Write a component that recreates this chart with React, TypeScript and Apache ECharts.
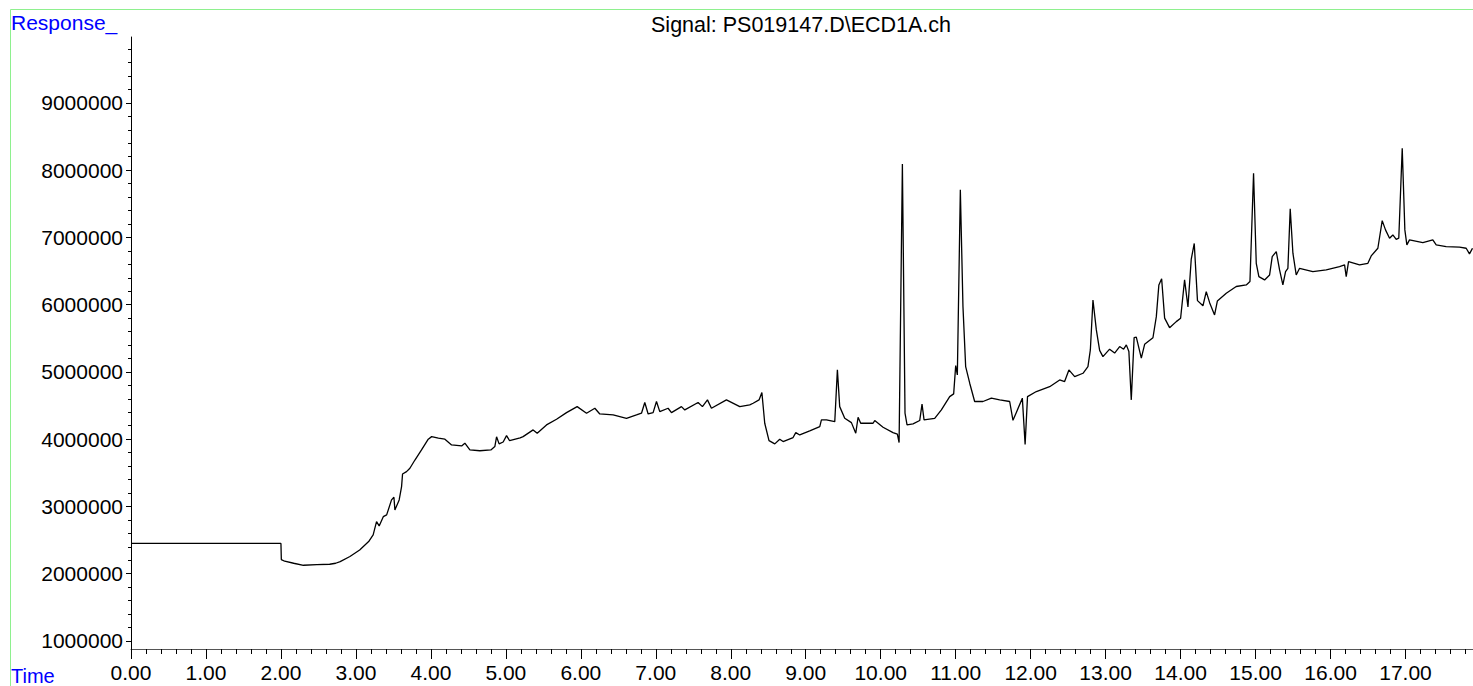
import React, { useEffect, useRef } from "react";
import * as echarts from "echarts";

const titleText = "Signal: PS019147.D\\ECD1A.ch";
const yAxisName = "Response_";
const xAxisName = "Time";

const xTickLabels = [0, 1, 2, 3, 4, 5, 6, 7, 8, 9, 10, 11, 12, 13, 14, 15, 16, 17];
const yTickLabels = [1000000, 2000000, 3000000, 4000000, 5000000, 6000000, 7000000, 8000000, 9000000];

const times = [
  0.0, 2.0, 2.005, 2.05, 2.17, 2.3, 2.48, 2.65, 2.73, 2.79, 2.92, 3.05, 3.17, 3.23, 3.275, 3.31, 3.365, 3.41,
  3.475, 3.507, 3.52, 3.577, 3.609, 3.622, 3.675, 3.72, 3.787, 3.875, 3.965, 4.01, 4.1, 4.187, 4.276, 4.41,
  4.453, 4.52, 4.653, 4.8, 4.853, 4.876, 4.91, 4.964, 5.009, 5.05, 5.19, 5.23, 5.364, 5.418, 5.542, 5.676,
  5.809, 5.951, 6.076, 6.187, 6.253, 6.431, 6.609, 6.742, 6.809, 6.853, 6.898, 6.964, 7.009, 7.053, 7.164,
  7.209, 7.342, 7.387, 7.564, 7.622, 7.689, 7.742, 7.942, 8.12, 8.253, 8.298, 8.377, 8.415, 8.453, 8.51,
  8.587, 8.653, 8.698, 8.831, 8.867, 8.92, 9.053, 9.187, 9.209, 9.276, 9.387, 9.422, 9.453, 9.52, 9.609,
  9.667, 9.698, 9.733, 9.898, 9.92, 10.031, 10.164, 10.222, 10.245, 10.289, 10.324, 10.351, 10.431, 10.52,
  10.551, 10.578, 10.72, 10.809, 10.92, 10.973, 11.0, 11.022, 11.062, 11.097, 11.133, 11.187, 11.253, 11.364,
  11.476, 11.587, 11.72, 11.764, 11.809, 11.889, 11.926, 11.958, 12.076, 12.253, 12.387, 12.453, 12.51,
  12.587, 12.698, 12.764, 12.796, 12.831, 12.876, 12.92, 12.964, 13.053, 13.12, 13.187, 13.24, 13.276, 13.31,
  13.342, 13.38, 13.409, 13.476, 13.52, 13.631, 13.676, 13.71, 13.747, 13.787, 13.853, 13.942, 14.0, 14.053,
  14.098, 14.142, 14.182, 14.225, 14.298, 14.342, 14.387, 14.453, 14.49, 14.609, 14.742, 14.876, 14.925,
  14.973, 15.009, 15.044, 15.12, 15.187, 15.222, 15.276, 15.32, 15.364, 15.4, 15.431, 15.462, 15.498, 15.542,
  15.587, 15.764, 15.942, 16.12, 16.187, 16.209, 16.24, 16.387, 16.498, 16.542, 16.631, 16.689, 16.733,
  16.787, 16.831, 16.876, 16.91, 16.956, 16.991, 17.018, 17.053, 17.231, 17.364, 17.409, 17.542, 17.72,
  17.809, 17.853, 17.893,
];

const responses = [
  2450000, 2450000, 2210000, 2185000, 2155000, 2125000, 2135000, 2140000, 2155000, 2180000, 2255000, 2353000,
  2477000, 2576000, 2774000, 2710000, 2848000, 2874000, 3097000, 3137000, 2948000, 3097000, 3295000, 3483000,
  3518000, 3568000, 3690000, 3840000, 4000000, 4038000, 4014000, 4000000, 3915000, 3900000, 3940000, 3840000,
  3828000, 3840000, 3890000, 4035000, 3930000, 3958000, 4052000, 3977000, 4020000, 4038000, 4138000, 4088000,
  4212000, 4297000, 4395000, 4484000, 4386000, 4460000, 4375000, 4360000, 4310000, 4360000, 4386000, 4545000,
  4375000, 4395000, 4560000, 4410000, 4460000, 4395000, 4484000, 4435000, 4545000, 4484000, 4584000, 4460000,
  4584000, 4484000, 4510000, 4534000, 4584000, 4693000, 4237000, 3978000, 3930000, 4000000, 3965000, 4024000,
  4098000, 4063000, 4123000, 4187000, 4286000, 4286000, 4260000, 5030000, 4484000, 4310000, 4246000, 4088000,
  4326000, 4237000, 4237000, 4277000, 4178000, 4098000, 4075000, 3950000, 8093000, 4386000, 4212000, 4227000,
  4277000, 4520000, 4286000, 4310000, 4435000, 4633000, 4673000, 5094000, 4955000, 7707000, 5971000, 5080000,
  4832000, 4560000, 4560000, 4610000, 4584000, 4560000, 4280000, 4398000, 4610000, 3920000, 4633000, 4708000,
  4780000, 4881000, 4857000, 5030000, 4930000, 4980000, 5080000, 5327000, 6070000, 5625000, 5320000, 5228000,
  5338000, 5280000, 5377000, 5338000, 5402000, 5303000, 4584000, 5510000, 5516000, 5204000, 5410000, 5508000,
  5822000, 6294000, 6386000, 5800000, 5658000, 5748000, 5798000, 6368000, 5967000, 6678000, 6910000, 6060000,
  5984000, 6194000, 6030000, 5848000, 6053000, 6170000, 6270000, 6294000, 6343000, 7954000, 6615000, 6417000,
  6368000, 6442000, 6715000, 6789000, 6517000, 6294000, 6492000, 6541000, 7424000, 6765000, 6442000, 6541000,
  6492000, 6517000, 6566000, 6591000, 6417000, 6640000, 6591000, 6615000, 6725000, 6839000, 7250000, 7112000,
  6988000, 7037000, 6972000, 6988000, 8326000, 7112000, 6889000, 6963000, 6924000, 6963000, 6889000, 6864000,
  6855000, 6839000, 6755000, 6839000,
];

const X_MIN = 0;
const X_MAX = 17.9;
const Y_MIN = 880000;
const Y_MAX = 9980000;

const FONT = '"Liberation Sans", Arial, sans-serif';

export default function App() {
  const ref = useRef<HTMLDivElement>(null);

  useEffect(() => {
    if (!ref.current) return;
    const chart = echarts.init(ref.current, null, { renderer: "svg" });

    const xMinor: number[] = [];
    xTickLabels.forEach((t) => {
      for (let k = 1; k < 5; k++) {
        const v = +(t + k * 0.2).toFixed(2);
        if (v < X_MAX) xMinor.push(v);
      }
    });
    const yMinor: number[] = [];
    yTickLabels.forEach((t) => {
      for (let k = 1; k < 5; k++) {
        const v = t + k * 200000;
        if (v < Y_MAX) yMinor.push(v);
      }
    });

    const data = times.map((t, i) => [t, responses[i]]);

    chart.setOption({
      animation: false,
      backgroundColor: "#ffffff",
      grid: { left: 131, right: 0, top: 37, bottom: 37, containLabel: false },
      xAxis: [
        {
          type: "value",
          min: X_MIN,
          max: X_MAX,
          position: "bottom",
          axisLine: { show: true, lineStyle: { color: "#555555", width: 1 } },
          axisTick: { show: true, customValues: xTickLabels, length: 10, lineStyle: { color: "#000000" } },
          axisLabel: {
            show: true,
            customValues: xTickLabels,
            formatter: (v: number) => v.toFixed(2),
            color: "#000000",
            fontFamily: FONT,
            fontSize: 21,
            margin: 13,
          },
          splitLine: { show: false },
        },
        {
          type: "value",
          min: X_MIN,
          max: X_MAX,
          position: "bottom",
          axisLine: { show: false },
          axisTick: { show: true, customValues: xMinor, length: 5, lineStyle: { color: "#000000" } },
          axisLabel: { show: false },
          splitLine: { show: false },
        },
      ],
      yAxis: [
        {
          type: "value",
          min: Y_MIN,
          max: Y_MAX,
          position: "left",
          axisLine: { show: true, lineStyle: { color: "#000000", width: 1 } },
          axisTick: { show: true, customValues: yTickLabels, length: 5, lineStyle: { color: "#000000" } },
          axisLabel: {
            show: true,
            customValues: yTickLabels,
            formatter: (v: number) => String(v),
            color: "#000000",
            fontFamily: FONT,
            fontSize: 21,
            margin: 8,
          },
          splitLine: { show: false },
        },
        {
          type: "value",
          min: Y_MIN,
          max: Y_MAX,
          position: "left",
          axisLine: { show: false },
          axisTick: { show: true, customValues: yMinor, length: 3, lineStyle: { color: "#000000" } },
          axisLabel: { show: false },
          splitLine: { show: false },
        },
      ],
      series: [
        {
          type: "line",
          xAxisIndex: 0,
          yAxisIndex: 0,
          data,
          showSymbol: false,
          symbol: "none",
          lineStyle: { color: "#000000", width: 1.3 },
          silent: true,
        },
      ],
      graphic: [
        { type: "line", shape: { x1: 10.5, y1: 9.5, x2: 1473, y2: 9.5 }, style: { stroke: "#8ef08e", lineWidth: 1 }, silent: true },
        { type: "line", shape: { x1: 10.5, y1: 9.5, x2: 10.5, y2: 686 }, style: { stroke: "#8ef08e", lineWidth: 1 }, silent: true },
        {
          type: "text",
          x: 11,
          y: 22,
          style: { text: yAxisName, fill: "#0000ff", fontFamily: FONT, fontSize: 21, align: "left", verticalAlign: "middle" },
          silent: true,
        },
        {
          type: "text",
          x: 11,
          y: 686,
          style: { text: xAxisName, fill: "#0000ff", fontFamily: FONT, fontSize: 20, align: "left", verticalAlign: "bottom" },
          silent: true,
        },
        {
          type: "text",
          x: 801,
          y: 25,
          style: { text: titleText, fill: "#000000", fontFamily: FONT, fontSize: 21.5, align: "center", verticalAlign: "middle" },
          silent: true,
        },
      ],
    });

    return () => chart.dispose();
  }, []);

  return <div ref={ref} style={{ position: "absolute", left: 0, top: 0, width: 1473, height: 686 }} />;
}
